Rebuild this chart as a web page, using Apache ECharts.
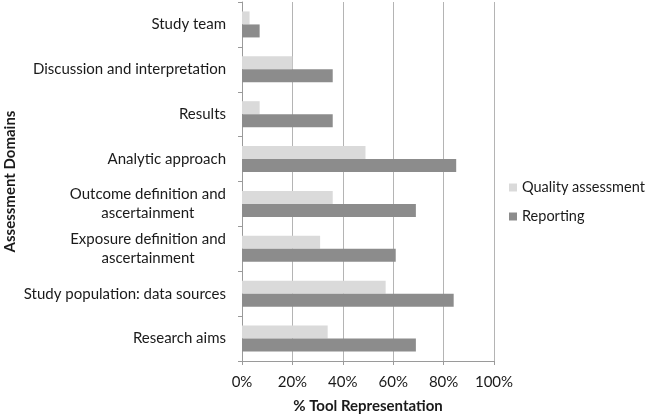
<!DOCTYPE html>
<html>
<head>
<meta charset="utf-8">
<script src="https://cdn.jsdelivr.net/npm/echarts@6/dist/echarts.min.js"></script>
<style>
html,body{margin:0;padding:0;background:#fff;}
#chart{width:648px;height:419px;}
</style>
</head>
<body>
<div id="chart"></div>
<script>
// Categories listed bottom to top
var categories = [
  'Research aims',
  'Study population: data sources',
  'Exposure definition and\nascertainment',
  'Outcome definition and\nascertainment',
  'Analytic approach',
  'Results',
  'Discussion and interpretation',
  'Study team'
];
var qualityAssessment = [34, 57, 31, 36, 49, 7, 20, 3];
var reporting = [69, 84, 61, 69, 85, 36, 36, 7];
var xTicks = [0, 20, 40, 60, 80, 100];
var seriesNames = ['Quality assessment', 'Reporting'];

var FONT = 'Lato, "Open Sans", sans-serif';
var chart = echarts.init(document.getElementById('chart'), null, {renderer: 'canvas'});
chart.setOption({
  animation: false,
  backgroundColor: '#ffffff',
  textStyle: {fontFamily: FONT},
  grid: {left: 242, right: 154, top: 2, bottom: 55, containLabel: false},
  legend: {
    orient: 'vertical',
    left: 509,
    top: 180,
    padding: 0,
    itemWidth: 8,
    itemHeight: 8,
    itemGap: 14,
    icon: 'rect',
    data: seriesNames,
    textStyle: {fontFamily: FONT, fontSize: 14.5, color: '#1a1a1a'}
  },
  xAxis: {
    type: 'value',
    min: xTicks[0],
    max: xTicks[xTicks.length - 1],
    interval: xTicks[1] - xTicks[0],
    name: '% Tool Representation',
    nameLocation: 'middle',
    nameGap: 38,
    nameTextStyle: {fontFamily: FONT, fontSize: 15, fontWeight: 'bold', color: '#1a1a1a'},
    axisLine: {show: true, lineStyle: {color: '#9a9a9a'}},
    axisTick: {show: true, length: 4, lineStyle: {color: '#9a9a9a'}},
    axisLabel: {formatter: '{value}%', fontFamily: FONT, fontSize: 15, color: '#1a1a1a', margin: 14},
    splitLine: {show: true, lineStyle: {color: '#b4b4b4'}}
  },
  yAxis: {
    type: 'category',
    data: categories,
    name: 'Assessment Domains',
    nameLocation: 'middle',
    nameRotate: 90,
    nameGap: 224,
    nameTextStyle: {fontFamily: FONT, fontSize: 15, fontWeight: 'bold', color: '#1a1a1a'},
    axisLine: {show: true, lineStyle: {color: '#9a9a9a'}},
    axisTick: {show: true, length: 4, lineStyle: {color: '#9a9a9a'}},
    axisLabel: {
      margin: 16,
      formatter: function (v) {
        return v.split('\n').map(function (s) { return '{c|' + s + '}'; }).join('\n');
      },
      rich: {c: {align: 'center', fontFamily: FONT, fontSize: 15, color: '#1a1a1a', lineHeight: 19}}
    }
  },
  series: [
    {
      name: seriesNames[0],
      type: 'bar',
      data: qualityAssessment,
      barWidth: 13,
      barGap: '0%',
      itemStyle: {color: '#dadada'}
    },
    {
      name: seriesNames[1],
      type: 'bar',
      data: reporting,
      barWidth: 13,
      barGap: '0%',
      itemStyle: {color: '#8c8c8c'}
    }
  ]
});
</script>
</body>
</html>
